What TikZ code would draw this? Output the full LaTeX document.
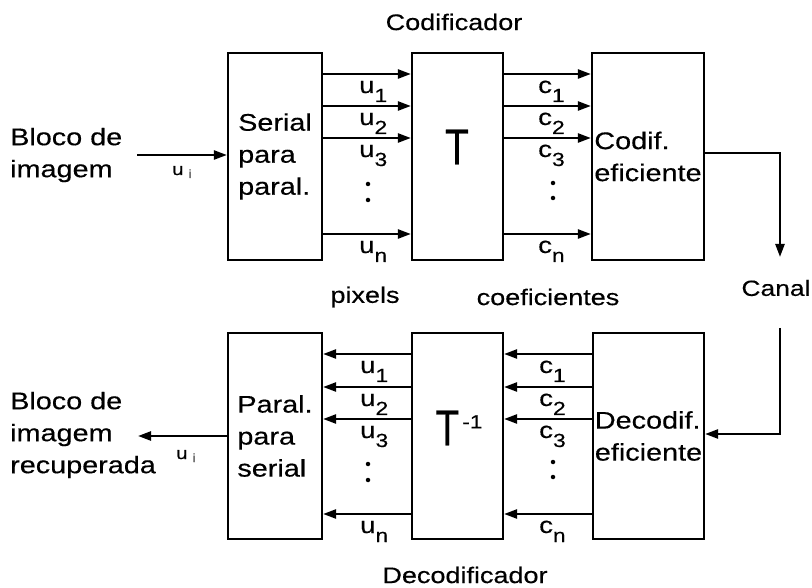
\documentclass[tikz,border=0pt]{standalone}
\usepackage{fontspec}
\setmainfont[FakeStretch=1.2,FakeBold=0.4]{Liberation Sans}
\usetikzlibrary{arrows.meta}
\newcommand{\lsub}[1]{\raisebox{-9pt}{\fontsize{19}{19}\selectfont #1}}
\begin{document}
\begin{tikzpicture}[x=1pt,y=-1pt,
  txt/.style={inner sep=0pt,font=\fontsize{24}{32}\selectfont},
  blk/.style={draw,line width=2.2pt,inner sep=0pt,align=left,font=\fontsize{24}{32}\selectfont},
  arr/.style={line width=2.4pt,-{Triangle[length=13pt,width=9pt]}},
  lab/.style={inner sep=0pt,anchor=base west,font=\fontsize{23}{24}\selectfont},
  dotn/.style={circle,fill,inner sep=0pt,minimum size=4.5pt}]
\useasboundingbox (0,0) rectangle (812,588);

% top row
\node[blk,minimum width=94pt,minimum height=207pt] (A) at (275,156.5) {Serial\\para\\paral.};
\node[blk,minimum width=91pt,minimum height=207pt] (T) at (457.5,156.5) {};
\node[txt] (tT) at (457,147) {\scalebox{1.35}[2.1]{T}};
\node[blk,minimum width=112pt,minimum height=207pt] (C) at (648,156.5) {Codif.\\eficiente};

% bottom row
\node[blk,minimum width=94pt,minimum height=206pt] (A2) at (275,436) {Paral.\\para\\serial};
\node[blk,minimum width=91pt,minimum height=206pt] (T2) at (457.5,436) {};
\node[txt] (tT2) at (459,428) {\scalebox{1.35}[2.1]{T}\hspace{3pt}\raisebox{17pt}{\fontsize{19}{19}\selectfont -1}};
\node[blk,minimum width=111pt,minimum height=206pt] (D) at (648.5,436) {Decodif.\\eficiente};

% titles
\node[txt,font=\fontsize{22.5}{30}\selectfont] (cod) at (454,22) {Codificador};
\node[txt,font=\fontsize{22.5}{30}\selectfont] (dec) at (465,575) {Decodificador};
\node[txt,font=\fontsize{22}{30}\selectfont] (canal) at (776,288) {Canal};
\node[txt,font=\fontsize{22.5}{30}\selectfont] (pix) at (365,297) {pixels};
\node[txt,font=\fontsize{22.5}{30}\selectfont] (coef) at (548,297) {coeficientes};

% input / output texts
\node[txt,align=left,anchor=west] (in) at (10,155) {Bloco de\\imagem};
\node[txt,align=left,anchor=west] (out) at (10,435) {Bloco de\\imagem\\recuperada};

% input arrow
\coordinate (inS) at (137,155);
\draw[arr] (inS) -- (A.west |- inS);
\node[inner sep=0pt,anchor=base west,font=\fontsize{17}{17}\selectfont] (ui1) at (172,175) {u\hspace{5pt}\raisebox{-3pt}{\color{black!55}\fontsize{12}{12}\selectfont i}};

% output arrow
\coordinate (outE) at (138,436);
\draw[arr] (A2.west |- outE) -- (outE);
\node[inner sep=0pt,anchor=base west,font=\fontsize{17}{17}\selectfont] (ui2) at (176,459) {u\hspace{5pt}\raisebox{-3pt}{\color{black!55}\fontsize{12}{12}\selectfont i}};

% top parallel arrows
\foreach \y/\s [count=\i] in {74/1,106/2,138/3,234/n}{
  \draw[arr] (A.east |- 0,\y) -- (T.west |- 0,\y);
  \draw[arr] (T.east |- 0,\y) -- (C.west |- 0,\y);
  \node[lab] (tu\i) at (359,\y+19) {u\lsub{\s}};
  \node[lab] (tc\i) at (538,\y+19) {c\lsub{\s}};
}
% bottom parallel arrows
\foreach \y/\s [count=\i] in {354/1,387/2,419/3,514/n}{
  \draw[arr] (T2.west |- 0,\y) -- (A2.east |- 0,\y);
  \draw[arr] (D.west |- 0,\y) -- (T2.east |- 0,\y);
  \node[lab] (bu\i) at (360,\y+19) {u\lsub{\s}};
  \node[lab] (bc\i) at (539,\y+19) {c\lsub{\s}};
}

% dots
\node[dotn] (d1) at (368,184) {};
\node[dotn] (d2) at (368,200) {};
\node[dotn] (d3) at (553,183) {};
\node[dotn] (d4) at (553,198) {};
\node[dotn] (d5) at (368,464) {};
\node[dotn] (d6) at (368,480) {};
\node[dotn] (d7) at (553,462) {};
\node[dotn] (d8) at (553,477) {};

% channel
\coordinate (chEnd) at (780,257);
\coordinate (chStart) at (780,328);
\draw[arr] (C.east |- 0,153) -| (chEnd);
\draw[arr] (chStart) |- (D.east |- 0,434);
\end{tikzpicture}
\end{document}
